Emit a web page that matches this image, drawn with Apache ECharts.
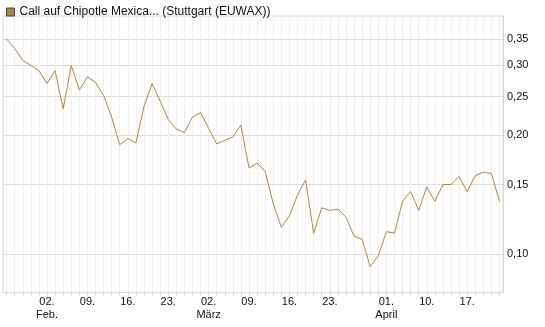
<!DOCTYPE html>
<html>
<head>
<meta charset="utf-8">
<script src="https://cdn.jsdelivr.net/npm/echarts@6/dist/echarts.min.js"></script>
<style>
  html, body { margin: 0; padding: 0; background: #fff; }
  #chart { width: 545px; height: 327px; }
</style>
</head>
<body>
<div id="chart"></div>
<script>
// Handelstage (Kategorien)
const days = [
  '26.01.', '27.01.', '28.01.', '29.01.', '30.01.',
  '02.02.', '03.02.', '04.02.', '05.02.', '06.02.',
  '09.02.', '10.02.', '11.02.', '12.02.', '13.02.',
  '16.02.', '17.02.', '18.02.', '19.02.', '20.02.',
  '23.02.', '24.02.', '25.02.', '26.02.', '27.02.',
  '02.03.', '03.03.', '04.03.', '05.03.', '06.03.',
  '09.03.', '10.03.', '11.03.', '12.03.', '13.03.',
  '16.03.', '17.03.', '18.03.', '19.03.', '20.03.',
  '23.03.', '24.03.', '25.03.', '26.03.', '27.03.',
  '30.03.', '31.03.', '01.04.', '02.04.',
  '07.04.', '08.04.', '09.04.', '10.04.',
  '13.04.', '14.04.', '15.04.', '16.04.', '17.04.',
  '20.04.', '21.04.', '22.04.', '23.04.'
];

// Kurs des Calls
const prices = [
  0.350, 0.331, 0.309, 0.300, 0.291, 0.270, 0.291, 0.233, 0.300, 0.260,
  0.281, 0.272, 0.252, 0.222, 0.189, 0.196, 0.191, 0.236, 0.270, 0.244,
  0.219, 0.207, 0.203, 0.222, 0.228, 0.208, 0.190, 0.194, 0.198, 0.212,
  0.165, 0.170, 0.162, 0.134, 0.117, 0.125, 0.141, 0.154, 0.113, 0.131,
  0.129, 0.130, 0.124, 0.111, 0.109, 0.093, 0.099, 0.114, 0.113, 0.136,
  0.144, 0.129, 0.148, 0.136, 0.150, 0.150, 0.157, 0.144, 0.158, 0.161,
  0.160, 0.136
];

// Beschriftung der x-Achse
const tickDays = ['02.02.', '09.02.', '16.02.', '23.02.', '02.03.', '09.03.', '16.03.', '23.03.', '01.04.', '10.04.', '17.04.'];
const tickLabels = ['02.\nFeb.', '09.', '16.', '23.', '02.\nMärz', '09.', '16.', '23.', '01.\nApril', '10.', '17.'];

// Beschriftung der y-Achse
const yTicks = [0.10, 0.15, 0.20, 0.25, 0.30, 0.35];

const seriesName = 'Call auf Chipotle Mexica... (Stuttgart (EUWAX))';
const lineColor = '#b5853f';
const font = 'Liberation Sans, Arial, sans-serif';

const chart = echarts.init(document.getElementById('chart'), null, { renderer: 'canvas' });

const option = {
  animation: false,
  textStyle: { fontFamily: font },
  legend: {
    left: 1,
    top: 1,
    itemWidth: 8,
    itemHeight: 8,
    icon: 'rect',
    data: [{
      name: seriesName,
      itemStyle: { color: '#b0814a', borderColor: '#444', borderWidth: 1 }
    }],
    textStyle: { fontSize: 12, color: '#111', fontFamily: font }
  },
  grid: [
    // äußerer Rahmen mit horizontalen Linien
    { left: 3, right: 42, top: 16, bottom: 34.5, show: true, borderColor: '#d8d8d8', borderWidth: 1 },
    // Datenbereich
    { left: 6.6, right: 45.5, top: 16, bottom: 34.5 }
  ],
  xAxis: [
    { gridIndex: 0, type: 'category', data: [''], show: false },
    {
      gridIndex: 1,
      type: 'category',
      data: days,
      boundaryGap: false,
      axisLine: { show: false },
      axisTick: {
        show: true,
        length: 3,
        interval: 0,
        lineStyle: { color: '#d0d0d0' }
      },
      splitLine: {
        show: true,
        interval: 0,
        lineStyle: { color: '#efefef', width: 1 }
      },
      axisLabel: {
        interval: (idx, val) => tickDays.indexOf(val) >= 0,
        formatter: (val) => {
          const k = tickDays.indexOf(val);
          return k >= 0 ? tickLabels[k] : '';
        },
        fontSize: 11,
        lineHeight: 13,
        color: '#111',
        margin: 3,
        fontFamily: font
      }
    }
  ],
  yAxis: [
    {
      gridIndex: 0,
      type: 'log',
      position: 'right',
      min: 0.08,
      max: 0.40,
      axisLine: { show: true, lineStyle: { color: '#d8d8d8' } },
      axisTick: { show: false, customValues: yTicks },
      splitLine: { show: true, lineStyle: { color: '#dcdcdc' } },
      axisLabel: {
        customValues: yTicks,
        formatter: (v) => v.toFixed(2).replace('.', ','),
        fontSize: 11,
        color: '#111',
        margin: 4,
        fontFamily: font
      }
    },
    {
      gridIndex: 1,
      type: 'log',
      min: 0.08,
      max: 0.40,
      show: false,
      splitLine: { show: false }
    }
  ],
  series: [
    {
      name: seriesName,
      type: 'line',
      xAxisIndex: 1,
      yAxisIndex: 1,
      data: prices,
      symbol: 'none',
      color: lineColor,
      lineStyle: { color: lineColor, width: 1 }
    }
  ]
};

chart.setOption(option);
</script>
</body>
</html>
